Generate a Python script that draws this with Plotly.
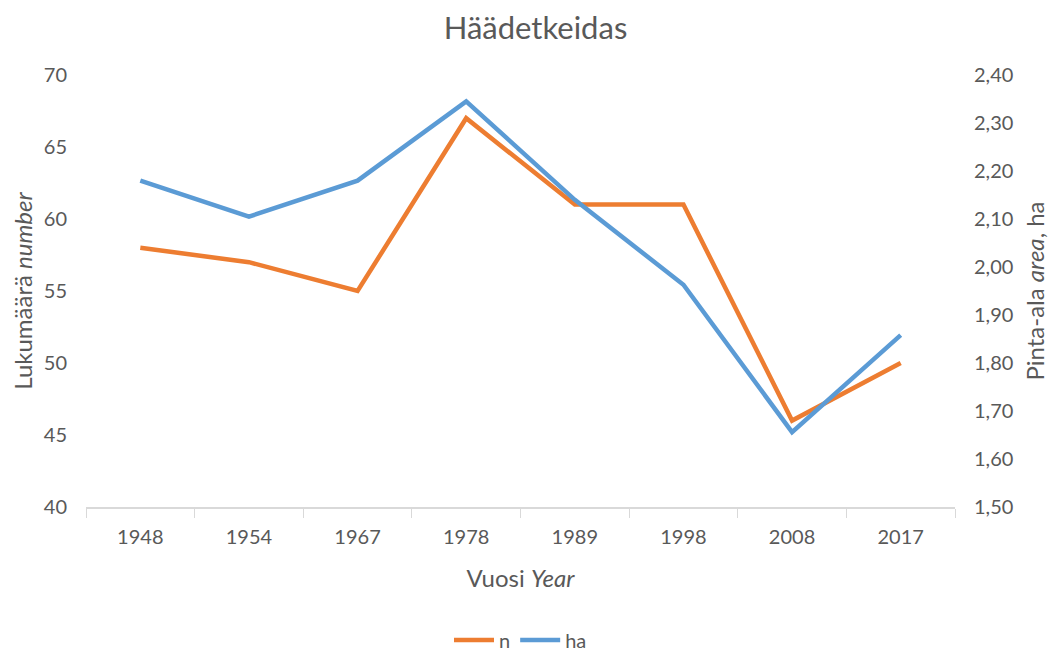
import plotly.graph_objects as go

years = ["1948", "1954", "1967", "1978", "1989", "1998", "2008", "2017"]
n_values = [58, 57, 55, 67, 61, 61, 46, 50]
ha_values = [2.18, 2.105, 2.18, 2.345, 2.14, 1.963, 1.656, 1.858]

grey = "#595959"
font = "Lato"

fig = go.Figure()
fig.add_trace(go.Scatter(x=years, y=n_values, name="n", mode="lines",
                         line=dict(color="#ED7D31", width=4.5)))
fig.add_trace(go.Scatter(x=years, y=ha_values, name="ha", mode="lines", yaxis="y2",
                         line=dict(color="#5B9BD5", width=4.5)))

# page body has an 8px margin, so the figure is a bit smaller and shifted
fig.update_layout(
    width=1055, height=643,
    paper_bgcolor="white", plot_bgcolor="white",
    separators=", ",
    font=dict(family=font, color=grey, size=20),
    title=dict(text="Häädetkeidas", x=0.5, xanchor="center", y=0.968, yanchor="middle",
               font=dict(size=31, color=grey)),
    margin=dict(l=78, r=108, t=67, b=144),
    xaxis=dict(type="category", range=[-0.5, len(years) - 0.5], automargin=False,
               showline=True, linecolor="#D9D9D9", linewidth=1.5,
               ticks="outside", tickson="boundaries", ticklen=9, tickcolor="#D9D9D9",
               ticklabelstandoff=11,
               showgrid=False, title=dict(text="Vuosi <i>Year</i>", standoff=23)),
    yaxis=dict(range=[40, 70], dtick=5, showgrid=False, zeroline=False, showline=False,
               ticks="", automargin=False, ticklabelstandoff=18,
               title=dict(text="Lukumäärä <i>number</i>", standoff=6)),
    yaxis2=dict(range=[1.5, 2.4], dtick=0.1, tickformat=".2f", overlaying="y", side="right",
                showgrid=False, zeroline=False, showline=False, ticks="", automargin=False,
                ticklabelstandoff=18,
                title=dict(text="Pinta-ala <i>area</i>, ha", standoff=14)),
    legend=dict(orientation="h", x=0.5, xanchor="center", y=0.017, yref="container",
                yanchor="middle", font=dict(size=20), itemwidth=40),
)

fig.write_html("out.html")
